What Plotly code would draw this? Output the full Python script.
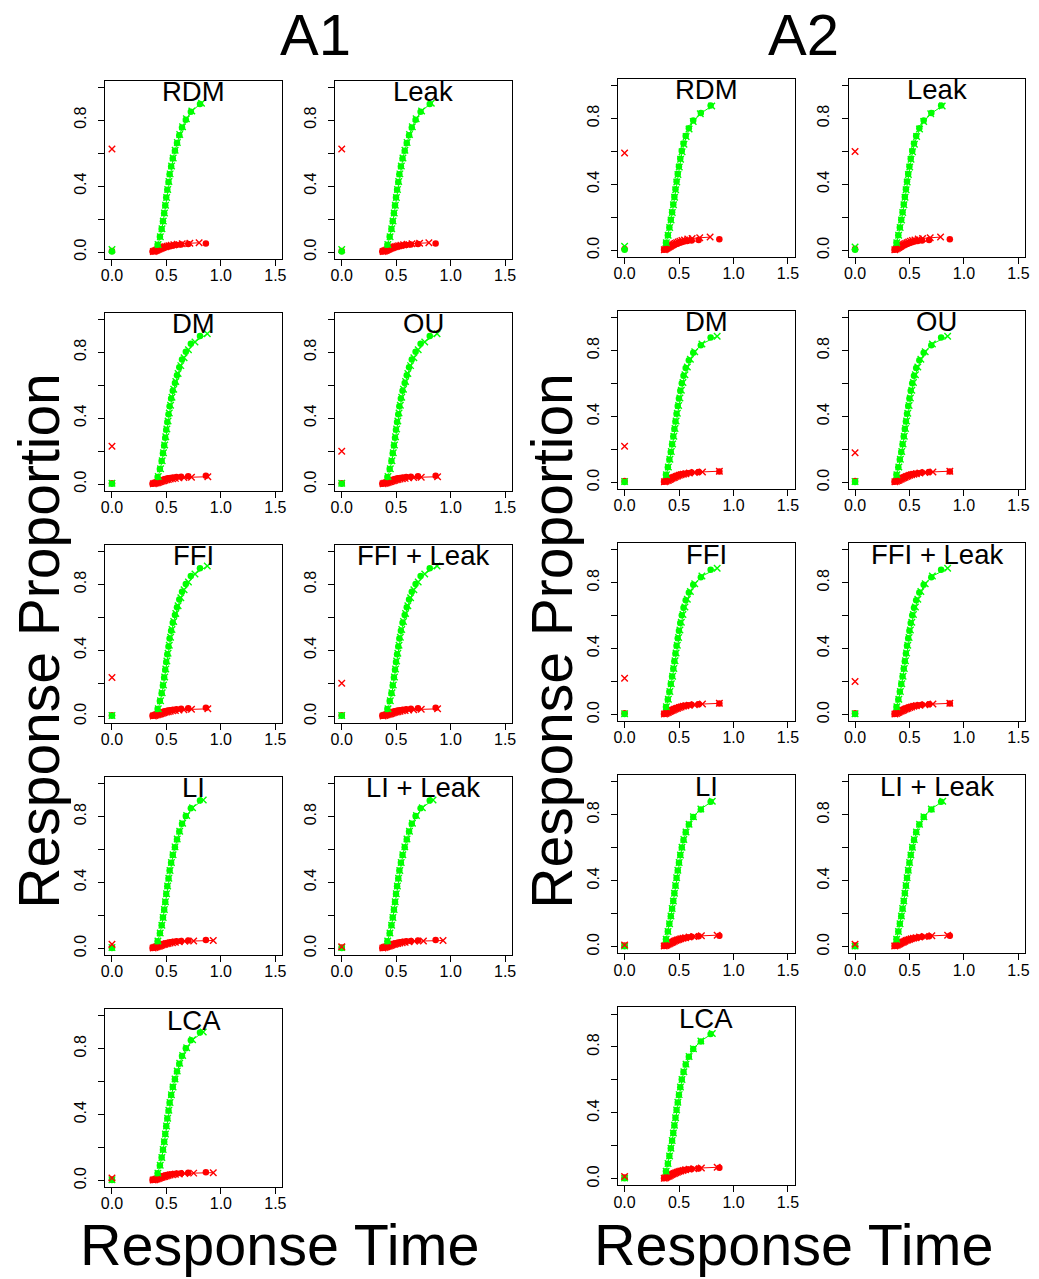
import plotly.graph_objects as go

FIG_W, FIG_H = 1039, 1279
GREEN = "#00ff00"
RED = "#ff0000"
INK = "#000000"
FONT = "Liberation Sans, Arial, Helvetica, sans-serif"

# ---------------------------------------------------------------- labels
group_titles = ["A1", "A2"]
model_names = ["RDM", "Leak", "DM", "OU", "FFI", "FFI + Leak", "LI", "LI + Leak", "LCA"]
model_family = ["race", "race", "diff", "diff", "diff", "diff", "inhib", "inhib", "inhib"]

x_ticks = [0.0, 0.5, 1.0, 1.5]
x_tick_text = ["0.0", "0.5", "1.0", "1.5"]
y_ticks = [0.0, 0.2, 0.4, 0.6, 0.8, 1.0]
y_tick_text = ["0.0", "", "0.4", "", "0.8", ""]

# ---------------------------------------------------------------- A1 observed quantiles
a1_obs_corr_rt = [0.419, 0.440, 0.456, 0.468, 0.479, 0.489, 0.498, 0.508, 0.519, 0.529,
                  0.543, 0.558, 0.578, 0.597, 0.618, 0.643, 0.678, 0.724, 0.808]
a1_obs_corr_p = [0.044, 0.092, 0.140, 0.187, 0.235, 0.282, 0.330, 0.377, 0.424, 0.472,
                 0.519, 0.567, 0.614, 0.661, 0.709, 0.756, 0.803, 0.851, 0.898]
a1_obs_err_rt = [0.372, 0.386, 0.397, 0.407, 0.417, 0.427, 0.437, 0.448, 0.459, 0.471,
                 0.484, 0.499, 0.516, 0.536, 0.560, 0.592, 0.635, 0.700, 0.862]
a1_obs_err_p = [0.003, 0.005, 0.008, 0.011, 0.013, 0.016, 0.019, 0.021, 0.024, 0.027,
                0.029, 0.032, 0.035, 0.037, 0.040, 0.043, 0.045, 0.048, 0.051]
a1_obs_zero_corr = 0.003
a1_obs_zero_err = 0.006

# A1 model predictions
a1_race_corr_rt = [0.423, 0.444, 0.459, 0.471, 0.482, 0.492, 0.502, 0.512, 0.523, 0.534,
                   0.547, 0.562, 0.580, 0.600, 0.622, 0.648, 0.683, 0.733, 0.822]
a1_race_corr_p = [0.045, 0.093, 0.141, 0.188, 0.236, 0.284, 0.331, 0.379, 0.427, 0.474,
                  0.522, 0.570, 0.617, 0.665, 0.713, 0.760, 0.808, 0.856, 0.903]
a1_race_err_rt = [0.380, 0.393, 0.404, 0.414, 0.424, 0.434, 0.444, 0.455, 0.466, 0.478,
                  0.491, 0.506, 0.523, 0.543, 0.568, 0.600, 0.645, 0.715, 0.800]
a1_race_err_p = [0.003, 0.006, 0.009, 0.012, 0.015, 0.018, 0.021, 0.024, 0.027, 0.030,
                 0.032, 0.035, 0.038, 0.041, 0.044, 0.047, 0.050, 0.053, 0.056]

a1_diff_corr_rt = [0.425, 0.446, 0.461, 0.473, 0.484, 0.494, 0.504, 0.515, 0.526, 0.538,
                   0.551, 0.567, 0.586, 0.607, 0.632, 0.662, 0.702, 0.762, 0.875]
a1_diff_corr_p = [0.046, 0.094, 0.142, 0.190, 0.238, 0.287, 0.335, 0.383, 0.431, 0.479,
                  0.527, 0.575, 0.623, 0.671, 0.719, 0.767, 0.815, 0.863, 0.912]
a1_diff_err_rt = [0.380, 0.394, 0.406, 0.417, 0.428, 0.439, 0.450, 0.462, 0.474, 0.487,
                  0.501, 0.517, 0.535, 0.556, 0.582, 0.615, 0.660, 0.730, 0.880]
a1_diff_err_p = [0.002, 0.005, 0.007, 0.009, 0.012, 0.014, 0.016, 0.019, 0.021, 0.024,
                 0.026, 0.028, 0.031, 0.033, 0.035, 0.038, 0.040, 0.042, 0.045]

a1_inhib_corr_rt = [0.422, 0.443, 0.458, 0.470, 0.481, 0.491, 0.501, 0.511, 0.522, 0.533,
                    0.546, 0.561, 0.579, 0.599, 0.622, 0.649, 0.686, 0.740, 0.838]
a1_inhib_corr_p = [0.045, 0.093, 0.140, 0.188, 0.236, 0.283, 0.331, 0.378, 0.426, 0.473,
                   0.521, 0.568, 0.616, 0.664, 0.711, 0.759, 0.806, 0.854, 0.901]
a1_inhib_err_rt = [0.378, 0.392, 0.404, 0.415, 0.426, 0.437, 0.448, 0.460, 0.472, 0.485,
                   0.499, 0.515, 0.533, 0.555, 0.582, 0.618, 0.668, 0.750, 0.930]
a1_inhib_err_p = [0.003, 0.005, 0.008, 0.010, 0.013, 0.015, 0.018, 0.020, 0.023, 0.025,
                  0.028, 0.030, 0.033, 0.035, 0.038, 0.040, 0.043, 0.045, 0.048]

a1_zero_err_fit = [0.625, 0.625, 0.230, 0.200, 0.235, 0.200, 0.025, 0.010, 0.015]
a1_zero_corr_fit = [0.015, 0.015, 0.005, 0.005, 0.005, 0.005, 0.005, 0.005, 0.005]

# ---------------------------------------------------------------- A2 observed quantiles
a2_obs_corr_rt = [0.380, 0.397, 0.411, 0.424, 0.436, 0.447, 0.457, 0.467, 0.477, 0.488,
                  0.499, 0.511, 0.525, 0.541, 0.561, 0.590, 0.630, 0.700, 0.790]
a2_obs_corr_p = [0.046, 0.092, 0.139, 0.185, 0.231, 0.278, 0.324, 0.370, 0.417, 0.463,
                 0.509, 0.556, 0.602, 0.648, 0.694, 0.741, 0.787, 0.833, 0.879]
a2_obs_err_rt = [0.362, 0.375, 0.386, 0.396, 0.406, 0.416, 0.426, 0.437, 0.448, 0.460,
                 0.473, 0.487, 0.503, 0.522, 0.545, 0.575, 0.615, 0.680, 0.870]
a2_obs_err_p = [0.004, 0.007, 0.011, 0.014, 0.018, 0.021, 0.025, 0.028, 0.032, 0.035,
                0.039, 0.042, 0.046, 0.049, 0.053, 0.056, 0.060, 0.063, 0.067]
a2_obs_zero_corr = 0.003
a2_obs_zero_err = 0.008

# A2 model predictions
a2_race_corr_rt = [0.383, 0.400, 0.414, 0.427, 0.438, 0.449, 0.459, 0.469, 0.479, 0.490,
                   0.502, 0.514, 0.528, 0.545, 0.565, 0.592, 0.630, 0.695, 0.800]
a2_race_corr_p = [0.046, 0.092, 0.138, 0.184, 0.230, 0.276, 0.322, 0.368, 0.414, 0.460,
                  0.506, 0.552, 0.598, 0.644, 0.690, 0.736, 0.782, 0.829, 0.875]
a2_race_err_rt = [0.365, 0.378, 0.389, 0.400, 0.410, 0.420, 0.431, 0.442, 0.453, 0.465,
                  0.478, 0.492, 0.508, 0.527, 0.550, 0.580, 0.620, 0.690, 0.785]
a2_race_err_p = [0.004, 0.008, 0.013, 0.017, 0.021, 0.025, 0.030, 0.034, 0.038, 0.042,
                 0.046, 0.051, 0.055, 0.059, 0.063, 0.068, 0.072, 0.076, 0.080]

a2_diff_corr_rt = [0.384, 0.402, 0.416, 0.429, 0.441, 0.452, 0.463, 0.473, 0.484, 0.496,
                   0.508, 0.521, 0.536, 0.554, 0.576, 0.604, 0.644, 0.710, 0.850]
a2_diff_corr_p = [0.047, 0.093, 0.140, 0.187, 0.233, 0.280, 0.327, 0.373, 0.420, 0.467,
                  0.513, 0.560, 0.607, 0.653, 0.700, 0.747, 0.793, 0.840, 0.887]
a2_diff_err_rt = [0.366, 0.380, 0.392, 0.403, 0.414, 0.425, 0.436, 0.448, 0.460, 0.473,
                  0.487, 0.502, 0.519, 0.539, 0.563, 0.595, 0.640, 0.715, 0.870]
a2_diff_err_p = [0.004, 0.007, 0.011, 0.014, 0.018, 0.021, 0.025, 0.028, 0.032, 0.036,
                 0.039, 0.043, 0.046, 0.050, 0.053, 0.057, 0.060, 0.064, 0.068]

a2_inhib_corr_rt = [0.382, 0.399, 0.413, 0.426, 0.437, 0.448, 0.458, 0.468, 0.478, 0.489,
                    0.501, 0.513, 0.527, 0.544, 0.564, 0.592, 0.632, 0.700, 0.805]
a2_inhib_corr_p = [0.046, 0.093, 0.139, 0.186, 0.232, 0.278, 0.325, 0.371, 0.418, 0.464,
                   0.511, 0.557, 0.603, 0.650, 0.696, 0.743, 0.789, 0.836, 0.882]
a2_inhib_err_rt = [0.364, 0.377, 0.389, 0.400, 0.411, 0.422, 0.433, 0.445, 0.457, 0.470,
                   0.484, 0.499, 0.516, 0.536, 0.560, 0.592, 0.635, 0.705, 0.850]
a2_inhib_err_p = [0.004, 0.007, 0.011, 0.015, 0.018, 0.022, 0.026, 0.029, 0.033, 0.037,
                  0.040, 0.044, 0.048, 0.051, 0.055, 0.059, 0.062, 0.066, 0.070]

a2_zero_err_fit = [0.590, 0.600, 0.220, 0.180, 0.220, 0.200, 0.010, 0.015, 0.015]
a2_zero_corr_fit = [0.025, 0.020, 0.005, 0.005, 0.005, 0.005, 0.005, 0.005, 0.005]

# ---------------------------------------------------------------- panel geometry (pixels)
box_w, box_h = 178.2, 178.3
a1_cols_px = [101.4, 333.4]
a1_rows_px = [80.7, 313.2, 545.7, 778.2, 1010.7]
a2_cols_px = [619.0, 851.7]
a2_rows_px = [79.0, 311.5, 544.0, 776.5, 1009.0]

groups = [
    dict(cols=a1_cols_px, rows=a1_rows_px,
         obs=(a1_obs_corr_rt, a1_obs_corr_p, a1_obs_err_rt, a1_obs_err_p),
         obs_zero=(a1_obs_zero_corr, a1_obs_zero_err),
         fits={"race": (a1_race_corr_rt, a1_race_corr_p, a1_race_err_rt, a1_race_err_p),
               "diff": (a1_diff_corr_rt, a1_diff_corr_p, a1_diff_err_rt, a1_diff_err_p),
               "inhib": (a1_inhib_corr_rt, a1_inhib_corr_p, a1_inhib_err_rt, a1_inhib_err_p)},
         zero_fit=(a1_zero_corr_fit, a1_zero_err_fit)),
    dict(cols=a2_cols_px, rows=a2_rows_px,
         obs=(a2_obs_corr_rt, a2_obs_corr_p, a2_obs_err_rt, a2_obs_err_p),
         obs_zero=(a2_obs_zero_corr, a2_obs_zero_err),
         fits={"race": (a2_race_corr_rt, a2_race_corr_p, a2_race_err_rt, a2_race_err_p),
               "diff": (a2_diff_corr_rt, a2_diff_corr_p, a2_diff_err_rt, a2_diff_err_p),
               "inhib": (a2_inhib_corr_rt, a2_inhib_corr_p, a2_inhib_err_rt, a2_inhib_err_p)},
         zero_fit=(a2_zero_corr_fit, a2_zero_err_fit)),
]


def px_x(v):
    return v / FIG_W


def px_y(v):
    return 1 - v / FIG_H


def fit_trace(x, y, color, ax):
    return go.Scatter(
        x=x, y=y, mode="lines+markers", xaxis=ax[0], yaxis=ax[1],
        line=dict(color=color, width=1),
        marker=dict(symbol="x-thin", size=6.5, color=color,
                    line=dict(color=color, width=1.4)),
        hoverinfo="skip")


def obs_trace(x, y, color, ax):
    return go.Scatter(
        x=x, y=y, mode="markers", xaxis=ax[0], yaxis=ax[1],
        marker=dict(symbol="circle", size=6.5, color=color, line=dict(width=0)),
        hoverinfo="skip")


fig = go.Figure()
layout = {}
annotations = []
n = 0
for g in groups:
    oc_rt, oc_p, oe_rt, oe_p = g["obs"]
    for i, name in enumerate(model_names):
        n += 1
        r, c = divmod(i, 2)
        left = g["cols"][c]
        top = g["rows"][r]
        sfx = "" if n == 1 else str(n)
        ax = ("x" + sfx, "y" + sfx)
        fc_rt, fc_p, fe_rt, fe_p = g["fits"][model_family[i]]
        zc_fit, ze_fit = g["zero_fit"]

        # error responses first, correct responses drawn over them
        fig.add_trace(fit_trace(fe_rt, fe_p, RED, ax))
        fig.add_trace(obs_trace(oe_rt, oe_p, RED, ax))
        fig.add_trace(obs_trace([0.0], [g["obs_zero"][1]], RED, ax))
        fig.add_trace(fit_trace(fc_rt, fc_p, GREEN, ax))
        fig.add_trace(obs_trace(oc_rt, oc_p, GREEN, ax))
        fig.add_trace(obs_trace([0.0], [g["obs_zero"][0]], GREEN, ax))
        fig.add_trace(fit_trace([0.0], [zc_fit[i]], GREEN, ax))
        fig.add_trace(fit_trace([0.0], [ze_fit[i]], RED, ax))

        common = dict(showline=True, mirror=True, linecolor=INK, linewidth=1,
                      ticks="outside", ticklen=6, tickwidth=1, tickcolor=INK,
                      showgrid=False, zeroline=False,
                      tickfont=dict(family=FONT, size=16, color=INK))
        layout["xaxis" + sfx] = dict(
            domain=[px_x(left), px_x(left + box_w)], range=[-0.06, 1.56],
            anchor=ax[1], tickmode="array", tickvals=x_ticks, ticktext=x_tick_text,
            ticklabelstandoff=-4, **common)
        layout["yaxis" + sfx] = dict(
            domain=[px_y(top + box_h), px_y(top)], range=[-0.04, 1.04],
            anchor=ax[0], tickmode="array", tickvals=y_ticks, ticktext=y_tick_text,
            tickangle=-90, ticklabelstandoff=6, **common)

        annotations.append(dict(
            text=name, x=px_x(left + box_w / 2), y=px_y(top + 11),
            xref="paper", yref="paper", xanchor="center", yanchor="middle",
            showarrow=False, font=dict(family=FONT, size=27.5, color=INK)))

# group headings and shared axis titles
for title, cx, ylab_x, xlab_x in [("A1", 314, 34, 278), ("A2", 806, 552, 797)]:
    annotations.append(dict(text=title, x=px_x(cx), y=px_y(35), xref="paper", yref="paper",
                            xanchor="center", yanchor="middle", showarrow=False,
                            font=dict(family=FONT, size=58, color=INK)))
    annotations.append(dict(text="Response Proportion", x=px_x(ylab_x), y=px_y(642),
                            xref="paper", yref="paper", xanchor="center", yanchor="middle",
                            textangle=-90, showarrow=False,
                            font=dict(family=FONT, size=57, color=INK)))
    annotations.append(dict(text="Response Time", x=px_x(xlab_x), y=px_y(1247),
                            xref="paper", yref="paper", xanchor="center", yanchor="middle",
                            showarrow=False, font=dict(family=FONT, size=57.5, color=INK)))

fig.update_layout(
    width=FIG_W, height=FIG_H,
    margin=dict(l=0, r=0, t=0, b=0),
    paper_bgcolor="white", plot_bgcolor="white",
    showlegend=False, annotations=annotations, **layout)

fig.write_html("out.html")
